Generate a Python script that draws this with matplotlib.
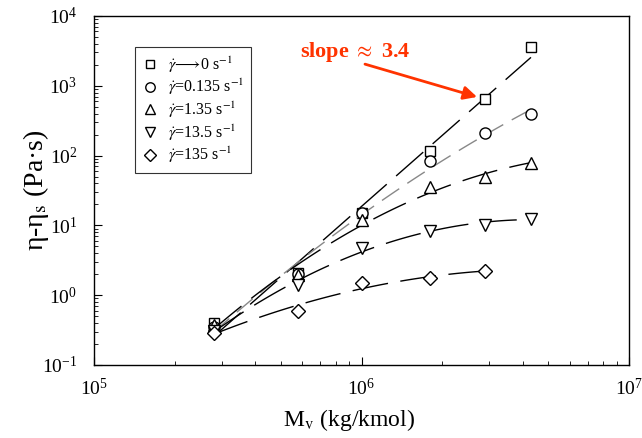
import numpy as np
import matplotlib
matplotlib.use('Agg')
import matplotlib.pyplot as plt

plt.rcParams['font.family'] = ['Liberation Serif', 'DejaVu Serif']
plt.rcParams['mathtext.fontset'] = 'stix'

# data
Mv = [2.8e5, 5.8e5, 1.0e6, 1.8e6, 2.9e6, 4.3e6]
eta_zero = [0.40, 2.05, 15.0, 116, 650, 3600]
eta_0135 = [0.35, 2.0, 15.0, 84, 210, 395]
eta_135 = [0.37, 1.95, 11.8, 35.5, 49, 78]
eta_1350 = [0.31, 1.4, 4.8, 8.4, 10.2, 12.5]
eta_13500 = [0.29, 0.6, 1.5, 1.76, 2.2]

labels = [r'$\dot{\gamma}\!\longrightarrow\!$0 s$^{-1}$',
          r'$\dot{\gamma}$=0.135 s$^{-1}$',
          r'$\dot{\gamma}$=1.35 s$^{-1}$',
          r'$\dot{\gamma}$=13.5 s$^{-1}$',
          r'$\dot{\gamma}$=135 s$^{-1}$']
series = [eta_zero, eta_0135, eta_135, eta_1350, eta_13500]
markers = ['s', 'o', '^', 'v', 'D']
msizes = [7, 8, 8, 8, 7]
line_colors = ['black', '#888888', 'black', 'black', 'black']
degrees = [1, 2, 2, 2, 2]

fig = plt.figure(figsize=(6.42, 4.38), dpi=100)
ax = fig.add_axes([0.1464, 0.1667, 0.8334, 0.7968])

for y, m, ms, lc, deg, lab in zip(series, markers, msizes, line_colors, degrees, labels):
    x = np.array(Mv[:len(y)])
    lx, ly = np.log10(x), np.log10(y)
    p = np.polyfit(lx, ly, deg)
    xs = np.linspace(lx[0], lx[-1], 100)
    dash = (15, 7) if lc != 'black' else (26, 9)
    ax.plot(10**xs, 10**np.polyval(p, xs), color=lc, lw=1.0, dashes=dash)
    ax.plot(x, y, linestyle='none', marker=m, ms=ms, mfc='white', mec='black',
            mew=1.0, label=lab)

ax.set_xscale('log')
ax.set_yscale('log')
ax.set_xlim(1e5, 1e7)
ax.set_ylim(1e-1, 1e4)
ax.tick_params(which='both', direction='in', top=False, right=False,
               labelsize=14)
ax.tick_params(axis='y', pad=12)
ax.tick_params(axis='x', pad=9)
ax.tick_params(which='major', length=6)
ax.tick_params(which='minor', length=3)
for s in ax.spines.values():
    s.set_linewidth(1.0)

ax.set_xlabel(r'M$_\mathrm{v}$ (kg/kmol)', fontsize=17)
ax.xaxis.set_label_coords(0.477, -0.12)
ax.set_ylabel('η-η$_\\mathrm{s}$ (Pa·s)', fontsize=20)
ax.yaxis.set_label_coords(-0.08, 0.5)

leg = ax.legend(loc='upper left', bbox_to_anchor=(0.077, 0.911), borderaxespad=0,
                fontsize=11.5, frameon=True, fancybox=False, edgecolor='black',
                labelspacing=0.15, handletextpad=0.6, handlelength=1.0,
                borderpad=0.45, markerscale=0.85)
leg.get_frame().set_linewidth(0.8)

red = '#FF3300'
ax.text(0.488, 0.897, r'slope $\approx$ 3.4', transform=ax.transAxes, color=red,
        fontsize=16, fontweight='bold', ha='center', va='center')
ax.annotate('', xy=(0.716, 0.768), xytext=(0.5065, 0.862),
            xycoords='axes fraction', textcoords='axes fraction',
            arrowprops=dict(arrowstyle='-|>', color=red, lw=2, mutation_scale=20,
                            shrinkA=0, shrinkB=0))

fig.savefig('out.png', dpi=100)
